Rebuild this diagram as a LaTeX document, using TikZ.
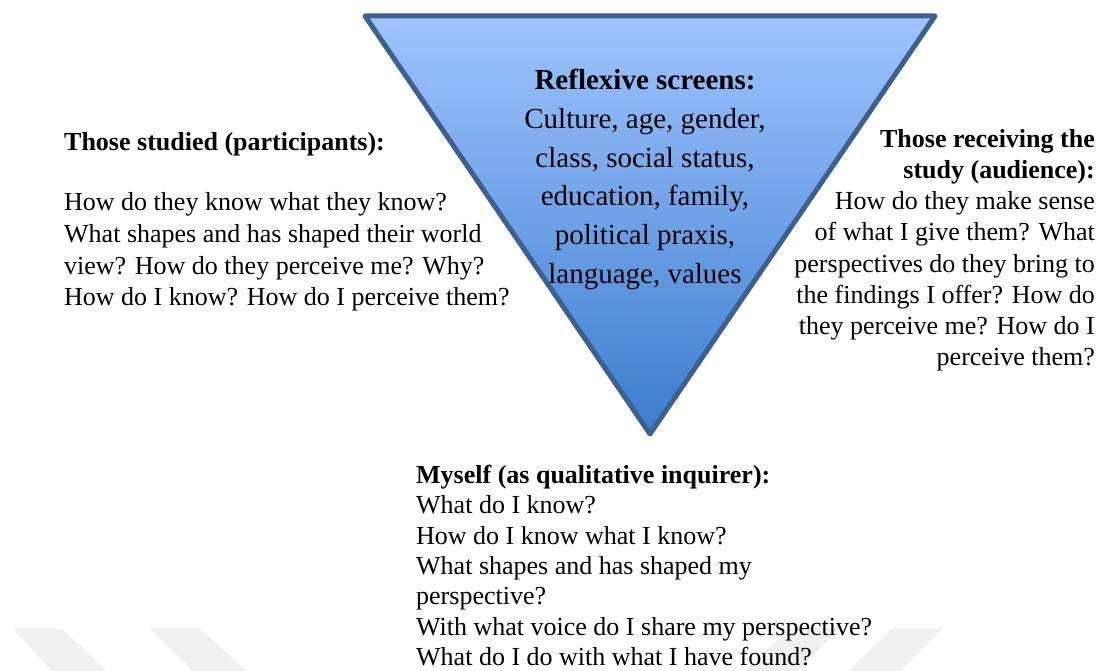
\documentclass[tikz,border=0pt]{standalone}
\usepackage{fontspec}
\setmainfont{Liberation Serif}
\usepackage{tikz}
\usetikzlibrary{positioning}
\definecolor{scrtop}{RGB}{160,196,255}
\definecolor{scrbot}{RGB}{58,124,205}
\definecolor{scredge}{RGB}{62,96,140}
\definecolor{wmark}{RGB}{240,240,240}
\newlength{\rsunit}
\setlength{\rsunit}{1pt}
\tikzstyle{screenstyle}=[draw=scredge, line width=5\rsunit, line join=round, top color=scrtop, bottom color=scrbot]
\tikzstyle{sidetext}=[inner sep=0pt, font=\fontsize{26}{30.5}\selectfont]
\tikzstyle{centertext}=[inner sep=0pt, align=center, font=\fontsize{29}{38.7}\selectfont]
\tikzstyle{markstyle}=[fill=wmark, draw=none]
\newcommand{\rshead}[1]{\textbf{#1}}

\begin{document}
\begin{tikzpicture}[x=\rsunit, y=-\rsunit]
\useasboundingbox (0,0) rectangle (1100,671);
\fill [markstyle] (13,629) -- (62,629) -- (107,671) -- (52,671) -- cycle;
\fill [markstyle] (150,629) -- (200,629) -- (247,671) -- (193,671) -- cycle;
\fill [markstyle] (790,628) -- (840,628) -- (797,671) -- (745,671) -- cycle;
\fill [markstyle] (893,628) -- (943,628) -- (900,671) -- (848,671) -- cycle;
\coordinate (tl) at (365,16);
\coordinate (tr) at (935,16);
\coordinate (apex) at (650,434);
\draw [screenstyle] (tl) -- (tr) -- (apex) -- cycle;
\node [centertext, anchor=north] (screens) at (645,69) {\rshead{Reflexive screens:}\\Culture, age, gender,\\class, social status,\\education, family,\\political praxis,\\language, values};
\node [sidetext, font=\fontsize{26}{31.8}\selectfont, align=left, anchor=north west] (studied) at (64,132) {\rshead{Those studied (participants):}\\[28.5pt]How do they know what they know?\\What shapes and has shaped their world\\view? How do they perceive me? Why?\\How do I know? How do I perceive them?};
\node [sidetext, font=\fontsize{26}{31.2}\selectfont, align=right, anchor=north east] (audience) at (1095,129) {\rshead{Those receiving the}\\\rshead{study (audience):}\\How do they make sense\\of what I give them? What\\perspectives do they bring to\\the findings I offer? How do\\they perceive me? How do I\\perceive them?};
\node [sidetext, font=\fontsize{26}{30.3}\selectfont, align=left, anchor=north west] (myself) at (416,465) {\rshead{Myself (as qualitative inquirer):}\\What do I know?\\How do I know what I know?\\What shapes and has shaped my\\perspective?\\With what voice do I share my perspective?\\What do I do with what I have found?};
\end{tikzpicture}
\end{document}
